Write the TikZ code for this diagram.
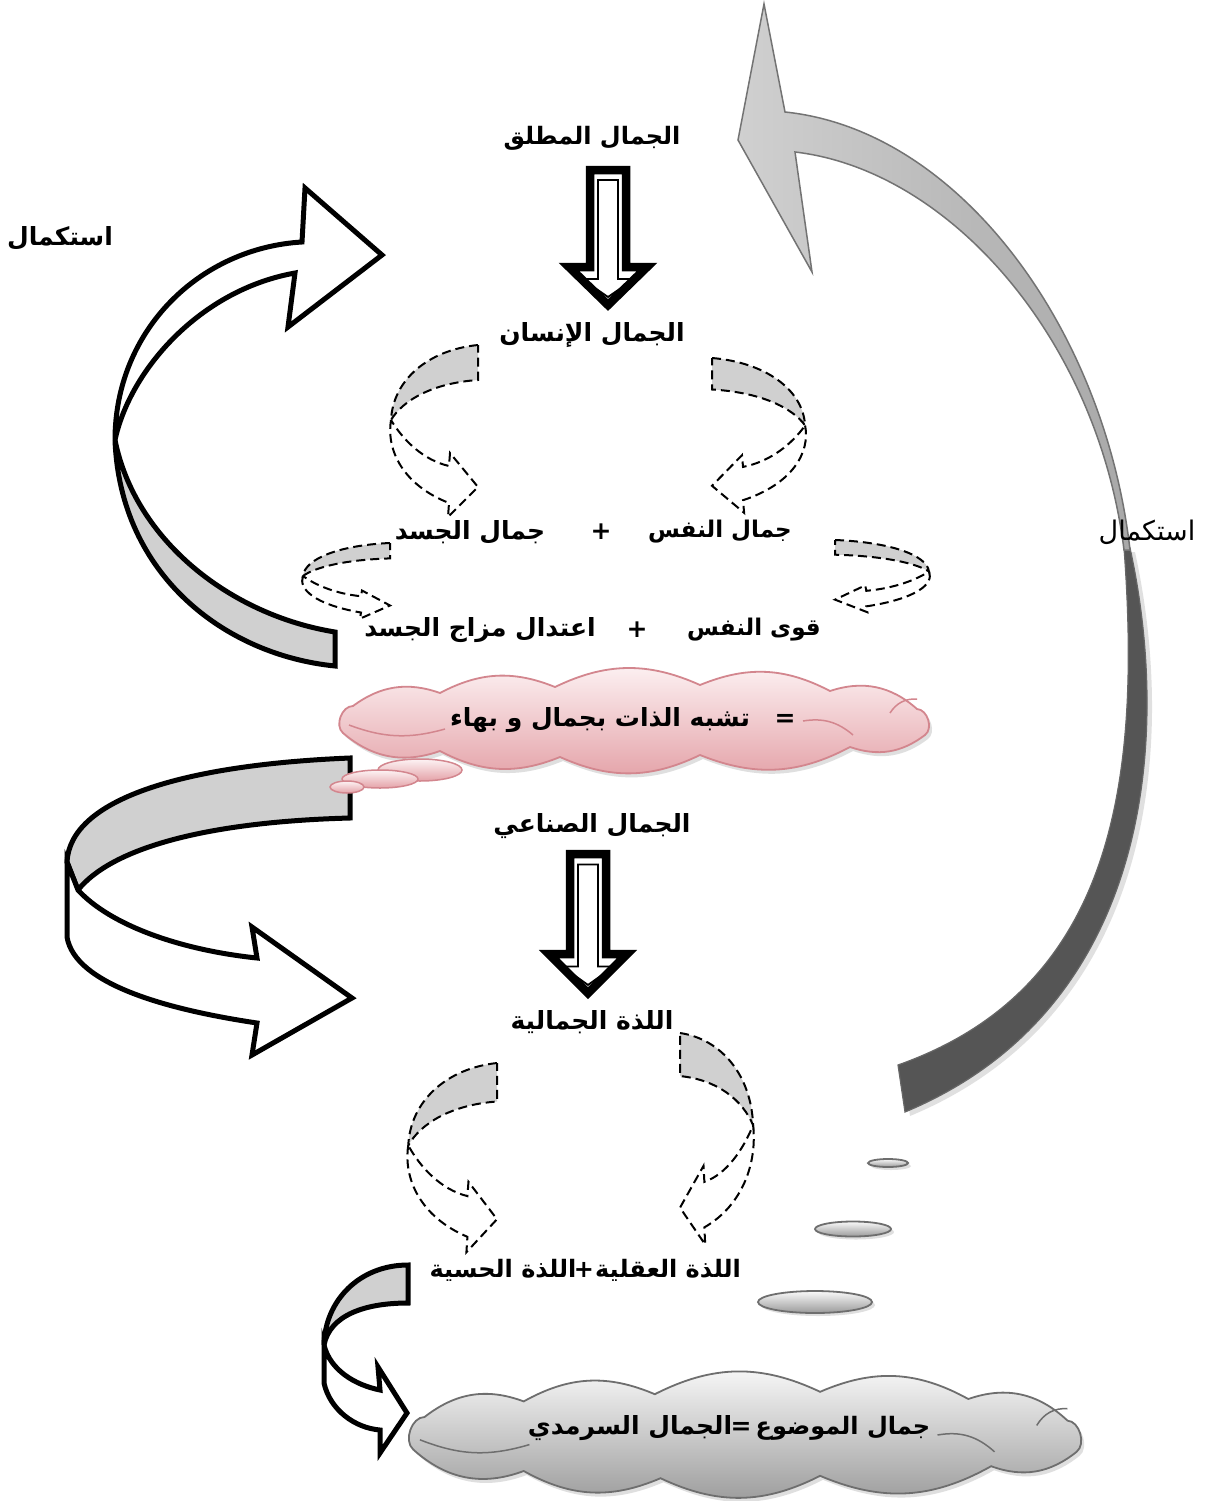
\documentclass[tikz,border=0pt]{standalone}
\usepackage{fontspec}
\newfontfamily\arabicfont[Script=Arabic]{DejaVu Sans}
\TeXXeTstate=1
\usetikzlibrary{shadows}
\definecolor{bandgray}{HTML}{D0D0D0}
\definecolor{darkband}{HTML}{555555}
\definecolor{lightband}{HTML}{C6C6C6}
\definecolor{pinkTop}{HTML}{FDF3F4}
\definecolor{pinkBot}{HTML}{E4A2A8}
\definecolor{pinkLine}{HTML}{D3868E}
\definecolor{grayTop}{HTML}{FAFAFA}
\definecolor{grayBot}{HTML}{9A9A9A}
\definecolor{grayLine}{HTML}{6E6E6E}
\newcommand{\cloudoutline}{(-292,12) to[bend left=70] (-282,-15) to[bend left=28] (-195,-28) to[bend left=25] (-80,-34) to[bend left=25] (65,-36) to[bend left=25] (195,-30) to[bend left=30] (282,-12) to[bend left=70] (290,14) to[bend left=28] (215,26) to[bend left=25] (65,34) to[bend left=25] (-75,36) to[bend left=25] (-195,30) to[bend left=30] (-292,12) -- cycle}
\newcommand{\cloudinner}{(255,-8) to[bend left=30] (282,-22) (168,0) to[bend left=25] (218,14) (-286,4) to[bend right=18] (-190,8)}
\tikzset{
  lbl/.style={font=\arabicfont\bfseries\fontsize{25}{30}\selectfont, inner sep=0pt, text=black},
  lblm/.style={font=\arabicfont\bfseries\fontsize{23}{28}\selectfont, inner sep=0pt, text=black},
  lblr/.style={font=\arabicfont\fontsize{27}{32}\selectfont, inner sep=0pt, text=black},
  dline/.style={draw=black, line width=2pt, dash pattern=on 9pt off 5pt},
  ribbon/.style={draw=black, line width=5pt, line join=miter, miter limit=8},
  pics/dribbon/.style={code={
    \fill[bandgray] (0,0) .. controls (-50,5) and (-85,35) .. (-87,75) .. controls (-75,55) and (-45,38) .. (0,35) -- cycle;
    \draw[dline] (0,0) .. controls (-50,5) and (-85,35) .. (-87,75) .. controls (-75,55) and (-45,38) .. (0,35) -- cycle;
    \draw[dline] (-87,75) .. controls (-92,105) and (-75,140) .. (-29,158) -- (-30,172) -- (0,142) -- (-28,108) -- (-29,121) .. controls (-55,115) and (-75,95) .. (-87,75);
  }},
  pics/dblarrow/.style={code={
    \draw[fill=white, line width=8.5pt, line join=miter] (-18,4) -- (18,4) -- (18,101) -- (39,101) -- (0,139) -- (-39,101) -- (-18,101) -- cycle;
    \draw[line width=1.8pt, line join=miter] (-10,14) -- (10,14) -- (10,113) -- (26,113) -- (0,131) -- (-26,113) -- (-10,113) -- cycle;
  }},
  bubble/.style={draw=pinkLine, line width=1.5pt, top color=pinkTop, bottom color=pinkBot},
  gbubble/.style={draw=grayLine, line width=1.8pt, top color=grayTop, bottom color=grayBot,
    drop shadow={shadow xshift=3pt, shadow yshift=-3pt, opacity=.25}},
}
\begin{document}
\begin{tikzpicture}[x=1pt, y=-1pt]
\useasboundingbox (0,0) rectangle (1211,1501);
\fill[white] (0,0) rectangle (1211,1501);

% ---------- big right grey arrow ----------
\fill[gray!40, opacity=.6] ([shift={(5,4)}]1130,548) .. controls ([shift={(5,4)}]1172,740) and ([shift={(5,4)}]1150,1010) .. ([shift={(5,4)}]905,1112) -- ([shift={(5,4)}]898,1065) .. controls ([shift={(5,4)}]1110,990) and ([shift={(5,4)}]1142,790) .. ([shift={(5,4)}]1124,548) -- cycle;
\filldraw[fill=darkband, draw=gray!80!black, line width=1.2pt] (1130,548) .. controls (1172,740) and (1150,1010) .. (905,1112) -- (898,1065) .. controls (1110,990) and (1142,790) .. (1124,548) -- cycle;
\shade[left color=bandgray, right color=lightband!85!black, draw=gray!90!black, line width=1.5pt, line join=miter]
  (1130,550) .. controls (1105,330) and (960,130) .. (785,112) -- (764,4) -- (738,140) -- (812,272) -- (795,152) .. controls (950,170) and (1098,340) .. (1124,550) -- cycle;

% ---------- labels ----------
\node[lbl, font=\arabicfont\bfseries\fontsize{24}{29}\selectfont] (mutlaq) at (592,138) {\beginR الجمال المطلق\endR};
\node[lbl] (insan) at (592,335) {\beginR الجمال الإنسان\endR};
\node[lblm] (jnafs) at (720,532) {\beginR جمال النفس\endR};
\node[lbl] (plusa) at (601,532) {+};
\node[lbl] (jjasad) at (470,532) {\beginR جمال الجسد\endR};
\node[lblm] (qnafs) at (754,630) {\beginR قوى النفس\endR};
\node[lbl] (plusb) at (637,630) {+};
\node[lbl] (itidal) at (480,630) {\beginR اعتدال مزاج الجسد\endR};
\node[lbl] (sinai) at (592,826) {\beginR الجمال الصناعي\endR};
\node[lbl] (ladhdha) at (592,1022) {\beginR اللذة الجمالية\endR};
\node[lbl, font=\arabicfont\bfseries\fontsize{24}{29}\selectfont] (aqliya) at (668,1270) {\beginR اللذة العقلية\endR};
\node[lbl, font=\arabicfont\bfseries\fontsize{24}{29}\selectfont] (plusc) at (584,1270) {+};
\node[lbl, font=\arabicfont\bfseries\fontsize{24}{29}\selectfont] (hissiya) at (503,1270) {\beginR اللذة الحسية\endR};
\node[lbl] (istL) at (60,238) {\beginR استكمال\endR};
\node[lblr] (istR) at (1147,532) {\beginR استكمال\endR};

% ---------- double down arrows ----------
\pic at (608,166) {dblarrow};
\pic[yscale=1.03] at (588,850) {dblarrow};

% ---------- dashed ribbon arrows ----------
\pic at (478,345) {dribbon};
\pic[xscale=-1.07, yscale=0.9] at (712,358) {dribbon};
\pic[yscale=0.44] at (390,543) {dribbon};
\pic[xscale=-1.08, yscale=0.42] at (835,540) {dribbon};
\pic[xscale=1.02, yscale=1.1] at (497,1063) {dribbon};
\pic[xscale=-0.84, yscale=1.23] at (680,1033) {dribbon};

% ---------- big left upper ribbon arrow ----------
\filldraw[fill=bandgray, ribbon] (115,440) .. controls (135,540) and (230,615) .. (335,632) -- (335,666) .. controls (225,655) and (120,575) .. (115,440) -- cycle;
\filldraw[fill=white, ribbon] (115,440) .. controls (130,370) and (200,290) .. (295,273) -- (288,327) -- (382,255) -- (305,188) -- (302,242) .. controls (200,248) and (115,330) .. (115,440) -- cycle;

% ---------- lower left ribbon arrow ----------
\filldraw[fill=bandgray, ribbon] (350,758) .. controls (180,765) and (70,800) .. (67,862) -- (78,890) .. controls (110,850) and (200,822) .. (350,818) -- cycle;
\filldraw[fill=white, ribbon] (67,862) -- (67,937) .. controls (75,985) and (170,1010) .. (257,1023) -- (252,1055) -- (352,998) -- (252,927) -- (257,958) .. controls (180,950) and (110,925) .. (78,890) -- cycle;

% ---------- small bottom left ribbon arrow ----------
\filldraw[fill=bandgray, ribbon] (408,1265) .. controls (360,1265) and (325,1300) .. (324,1345) .. controls (330,1315) and (365,1303) .. (408,1303) -- cycle;
\filldraw[fill=white, ribbon] (324,1345) -- (324,1383) .. controls (330,1410) and (355,1428) .. (380,1430) -- (380,1453) -- (407,1413) -- (378,1367) -- (380,1390) .. controls (355,1385) and (330,1370) .. (324,1345) -- cycle;

% ---------- pink cloud ----------
\begin{scope}[shift={(635,721)}]
  \path[draw=pinkLine, line width=1.8pt, top color=pinkTop, bottom color=pinkBot,
    drop shadow={shadow xshift=3pt, shadow yshift=-4pt, opacity=.25}] \cloudoutline;
  \draw[pinkLine, line width=1.5pt] \cloudinner;
\end{scope}
\coordinate (pinkcloud) at (635,721);
\draw[bubble] (420,770) ellipse [x radius=42pt, y radius=11pt];
\draw[bubble] (380,779) ellipse [x radius=38pt, y radius=9pt];
\draw[bubble] (347,787) ellipse [x radius=17pt, y radius=6pt];
\node[lbl] (eqa) at (785,720) {=};
\node[lbl] (tashabbuh) at (600,720) {\beginR تشبه الذات بجمال و بهاء\endR};

% ---------- grey cloud & bubbles ----------
\draw[gbubble] (888,1163) ellipse [x radius=20pt, y radius=4pt];
\draw[gbubble] (853,1229) ellipse [x radius=38pt, y radius=7.5pt];
\draw[gbubble] (815,1302) ellipse [x radius=57pt, y radius=11pt];
\begin{scope}[shift={(746,1435)}, xscale=1.14, yscale=1.2]
  \path[draw=grayLine, line width=1.8pt, top color=grayTop, bottom color=grayBot,
    drop shadow={shadow xshift=3pt, shadow yshift=-4pt, opacity=.25}] \cloudoutline;
  \draw[grayLine, line width=1.5pt] \cloudinner;
\end{scope}
\coordinate (graycloud) at (746,1435);
\node[lbl, font=\arabicfont\bfseries\fontsize{24}{29}\selectfont] (mawdu) at (843,1428) {\beginR جمال الموضوع\endR};
\node[lbl] (eqb) at (741,1428) {=};
\node[lbl] (sarmadi) at (630,1428) {\beginR الجمال السرمدي\endR};
\end{tikzpicture}
\end{document}
